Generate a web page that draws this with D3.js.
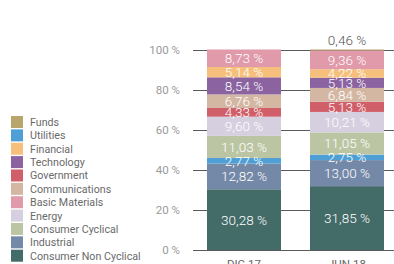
<!DOCTYPE html>
<html>
<head>
<meta charset="utf-8">
<script src="https://cdn.jsdelivr.net/npm/d3@7"></script>
<style>
  body { margin: 0; background: #fff; }
  text { font-family: Roboto, "Open Sans", sans-serif; }
</style>
</head>
<body>
<div id="chart"></div>
<script>
// stacking order, bottom to top
const sectors = ["Consumer Non Cyclical", "Industrial", "Utilities", "Consumer Cyclical", "Energy",
  "Government", "Communications", "Technology", "Financial", "Basic Materials", "Funds"];
const periods = ["DIC.17", "JUN.18"];
const dic17 = [30.28, 12.82, 2.77, 11.03, 9.60, 4.33, 6.76, 8.54, 5.14, 8.73, 0];
const jun18 = [31.85, 13.00, 2.75, 11.05, 10.21, 5.13, 6.84, 5.13, 4.22, 9.36, 0.46];
const legendOrder = ["Funds", "Utilities", "Financial", "Technology", "Government", "Communications",
  "Basic Materials", "Energy", "Consumer Cyclical", "Industrial", "Consumer Non Cyclical"];
const colors = ["#436b68", "#7489a7", "#4e9fd6", "#bcc5a3", "#d6cfdf",
  "#d05f6a", "#d4b7a3", "#8a63a0", "#f6c07c", "#e09aa9", "#b8a56b"];
const yTicks = [0, 20, 40, 60, 80, 100];

const fmt = v => v.toFixed(2).replace(".", ",") + " %";

const W = 394, H = 264;
const svg = d3.select("#chart").append("svg").attr("width", W).attr("height", H);

const rows = periods.map((p, i) => {
  const r = { period: p };
  const vals = i === 0 ? dic17 : jun18;
  sectors.forEach((s, j) => r[s] = vals[j]);
  return r;
});

const y = d3.scaleLinear().domain([0, 100]).range([250, 49.5]);
const x = d3.scaleBand().domain(periods).range([207, 384]).paddingInner(0.2816).paddingOuter(0);
const color = d3.scaleOrdinal().domain(sectors).range(colors);

// gridlines
svg.append("g").selectAll("line").data(yTicks).enter().append("line")
  .attr("x1", 193).attr("x2", 394)
  .attr("y1", d => Math.round(y(d)) + 0.5).attr("y2", d => Math.round(y(d)) + 0.5)
  .attr("stroke", "#5a5a5a").attr("stroke-width", 1);

svg.append("g").selectAll("text").data(yTicks).enter().append("text")
  .attr("x", 180).attr("y", d => y(d) + 4)
  .attr("text-anchor", "end").attr("font-size", 11.5).attr("fill", "#9a9a9a")
  .text(d => d + " %");

const stacked = d3.stack().keys(sectors)(rows);

const layers = svg.append("g").selectAll("g").data(stacked).enter().append("g")
  .attr("fill", d => color(d.key));
layers.selectAll("rect").data(d => d).enter().append("rect")
  .attr("x", d => x(d.data.period))
  .attr("width", x.bandwidth())
  .attr("y", d => y(d[1]))
  .attr("height", d => y(d[0]) - y(d[1]));

// value labels
stacked.forEach(layer => {
  layer.forEach(d => {
    const v = d[1] - d[0];
    if (v <= 0) return;
    const small = v < 1;
    svg.append("text")
      .attr("x", x(d.data.period) + x.bandwidth() / 2)
      .attr("y", small ? y(d[1]) - 5 : (y(d[0]) + y(d[1])) / 2 + 5)
      .attr("text-anchor", "middle")
      .attr("font-size", 13.5).attr("font-weight", 300)
      .attr("fill", small ? "#555" : "#fff")
      .text(fmt(v));
  });
});

// x labels
svg.append("g").selectAll("text").data(periods).enter().append("text")
  .attr("x", d => x(d) + x.bandwidth() / 2).attr("y", 268)
  .attr("text-anchor", "middle").attr("font-size", 11.5).attr("fill", "#666")
  .text(d => d);

// legend
const leg = svg.append("g").selectAll("g").data(legendOrder).enter().append("g")
  .attr("transform", (d, i) => "translate(11," + (122 + i * 13.37) + ")");
leg.append("rect").attr("x", 0).attr("y", -6).attr("width", 12).attr("height", 12)
  .attr("fill", d => color(d));
leg.append("text").attr("x", 19).attr("y", 4).attr("font-size", 10.7).attr("fill", "#6a6a6a")
  .text(d => d);
</script>
</body>
</html>
